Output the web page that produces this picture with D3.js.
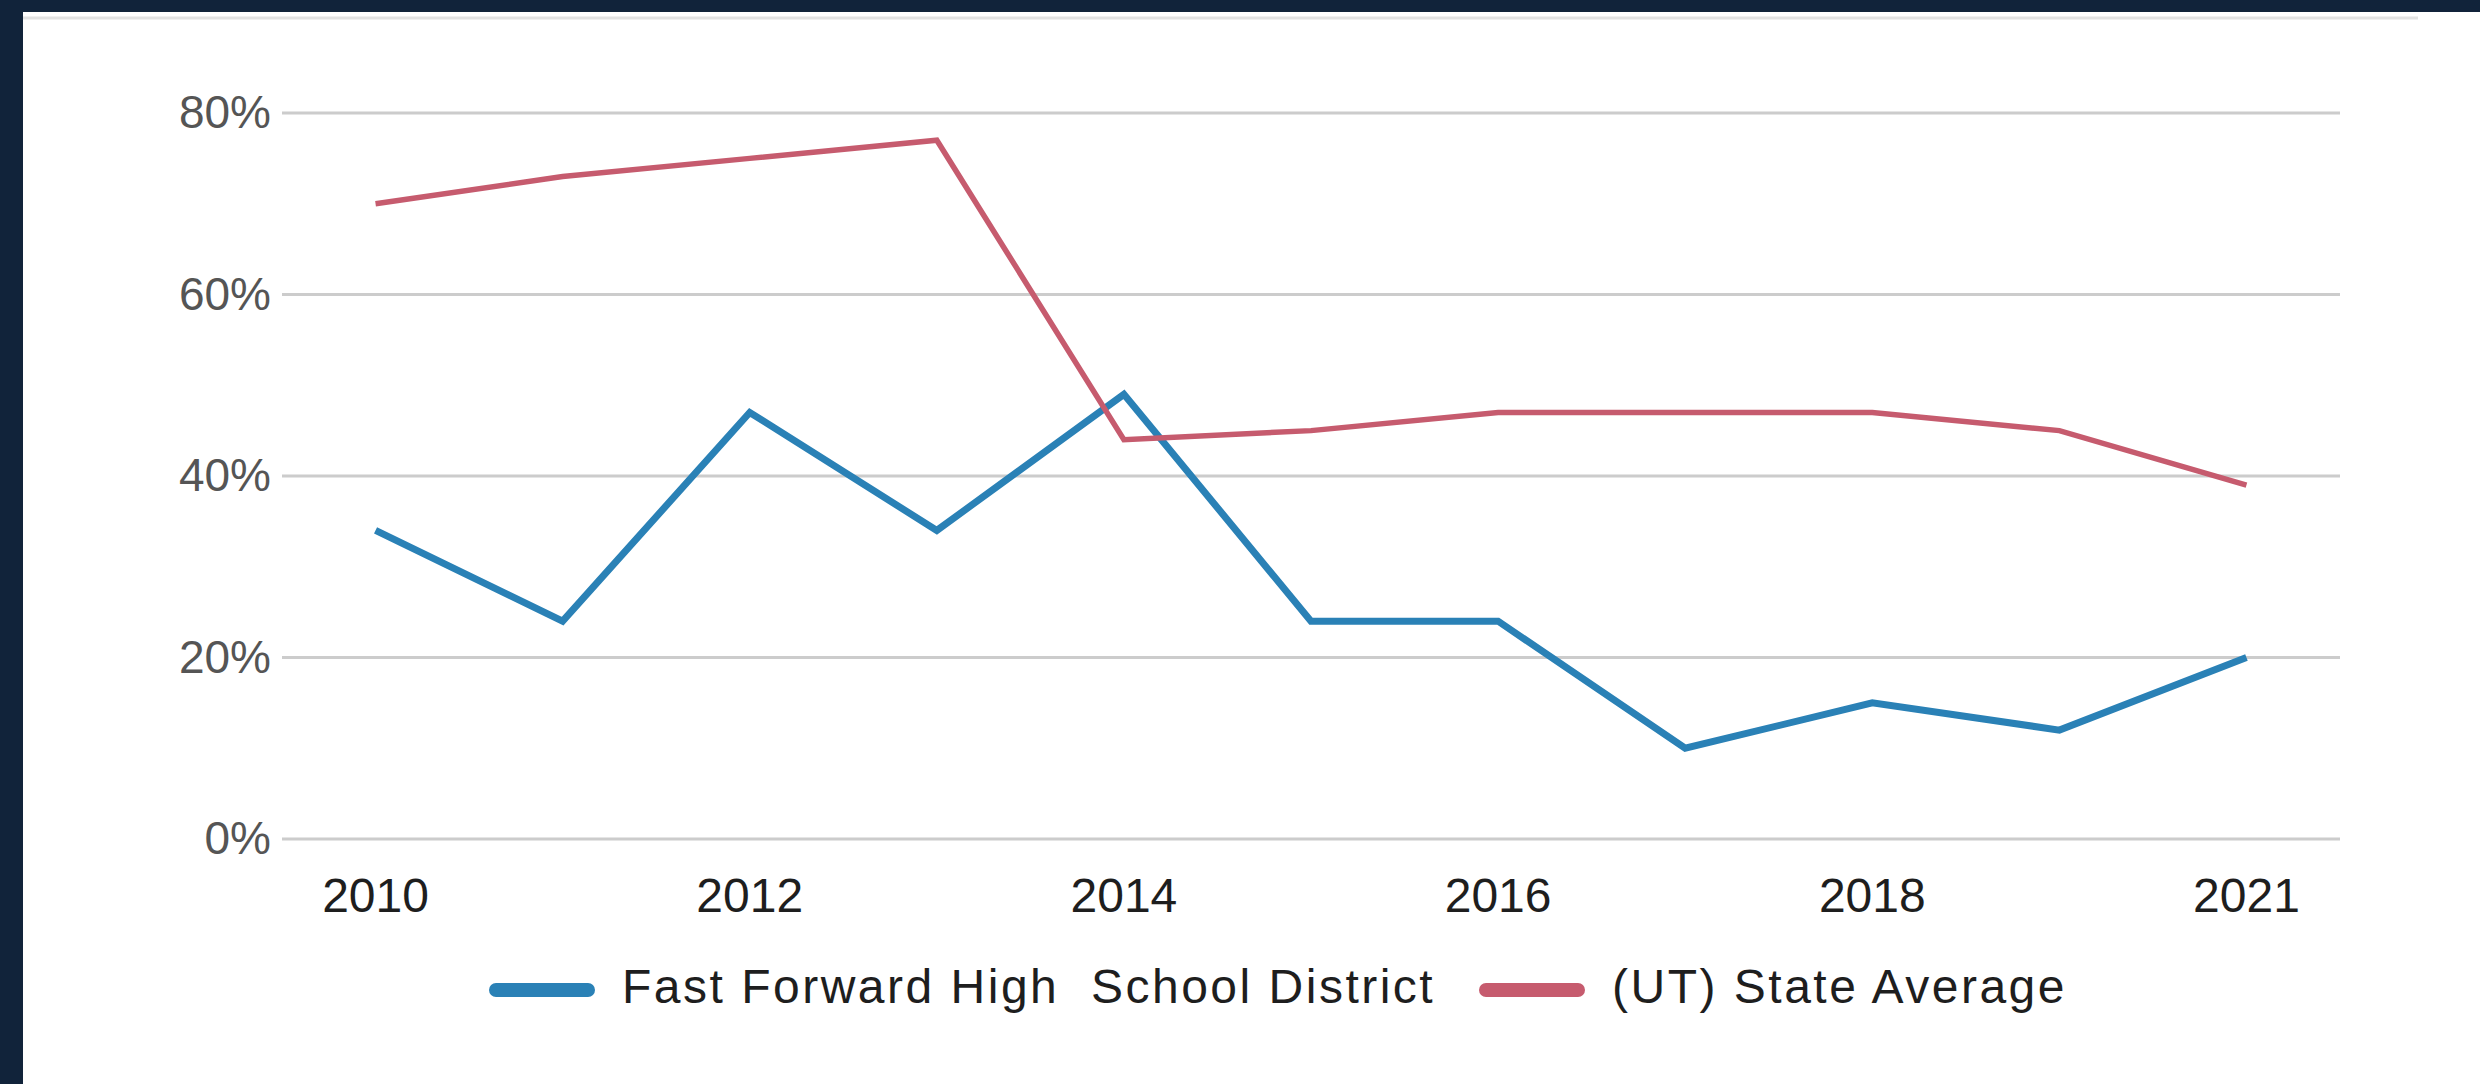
<!DOCTYPE html>
<html>
<head>
<meta charset="utf-8">
<script src="https://cdn.jsdelivr.net/npm/d3@7"></script>
<style>
  html, body { margin: 0; padding: 0; background: #11233a; }
  svg { display: block; }
  text { font-family: "Liberation Sans", Arial, sans-serif; }
</style>
</head>
<body>
<svg id="chart" width="2480" height="1084"></svg>
<script>
// ---- data ----
const years = ["2010","2011","2012","2013","2014","2015","2016","2017","2018","2019","2021"];
const districtValues = [34, 24, 47, 34, 49, 24, 24, 10, 15, 12, 20];
const stateValues    = [70, 73, 75, 77, 44, 45, 47, 47, 47, 45, 39];
const yTicks = [0, 20, 40, 60, 80];
const xTickLabels = ["2010","2012","2014","2016","2018","2021"];
const seriesNames = ["Fast Forward High  School District", "(UT) State Average"];
const seriesColors = ["#2a81b6", "#c65b6e"];

const svg = d3.select("#chart");

// panel
svg.append("rect").attr("x", 0).attr("y", 0).attr("width", 2480).attr("height", 1084).attr("fill", "#11233a");
svg.append("rect").attr("x", 23).attr("y", 12).attr("width", 2457).attr("height", 1072).attr("fill", "#ffffff");
svg.append("line").attr("x1", 23).attr("x2", 2418).attr("y1", 18).attr("y2", 18)
  .attr("stroke", "#e2e2e2").attr("stroke-width", 3);

// scales
const x = d3.scaleBand().domain(years).range([282, 2340]).padding(0);
const y = d3.scaleLinear().domain([0, 80]).range([839, 113]);
const cx = d => x(d) + x.bandwidth() / 2;

// gridlines
const grid = svg.append("g");
grid.selectAll("line").data(yTicks).join("line")
  .attr("x1", x.range()[0]).attr("x2", x.range()[1])
  .attr("y1", d => y(d)).attr("y2", d => y(d))
  .attr("stroke", "#cccccc").attr("stroke-width", 3);

// y axis labels
const yAxis = d3.axisLeft(y).tickValues(yTicks).tickFormat(d => d + "%").tickSize(0).tickPadding(0);
const gy = svg.append("g").attr("transform", "translate(271,0)").call(yAxis);
gy.select(".domain").remove();
gy.selectAll("text").attr("font-size", 46).attr("fill", "#555555")
  .attr("font-family", "'Liberation Sans', Arial, sans-serif");

// x axis labels
const xAxis = d3.axisBottom(x).tickValues(xTickLabels).tickSize(0).tickPadding(0);
const gx = svg.append("g").attr("transform", "translate(0,878)").call(xAxis);
gx.select(".domain").remove();
gx.selectAll("text").attr("font-size", 48).attr("fill", "#1e1e1e")
  .attr("font-family", "'Liberation Sans', Arial, sans-serif");

// lines
const line = d3.line().x((d, i) => cx(years[i])).y(d => y(d));
svg.append("path").datum(districtValues).attr("d", line)
  .attr("fill", "none").attr("stroke", seriesColors[0]).attr("stroke-width", 7).attr("stroke-linejoin", "miter");
svg.append("path").datum(stateValues).attr("d", line)
  .attr("fill", "none").attr("stroke", seriesColors[1]).attr("stroke-width", 5.5).attr("stroke-linejoin", "miter");

// legend
const legendItems = [
  { name: seriesNames[0], color: seriesColors[0], x: 490 },
  { name: seriesNames[1], color: seriesColors[1], x: 1480 }
];
const lg = svg.append("g");
legendItems.forEach(it => {
  lg.append("line").attr("x1", it.x + 6).attr("x2", it.x + 98).attr("y1", 990).attr("y2", 990)
    .attr("stroke", it.color).attr("stroke-width", 14).attr("stroke-linecap", "round");
  lg.append("text").attr("x", it.x + 132).attr("y", 1003).text(it.name)
    .attr("font-size", 48).attr("fill", "#1e1e1e").attr("letter-spacing", 2.5).style("white-space", "pre");
});
</script>
</body>
</html>
